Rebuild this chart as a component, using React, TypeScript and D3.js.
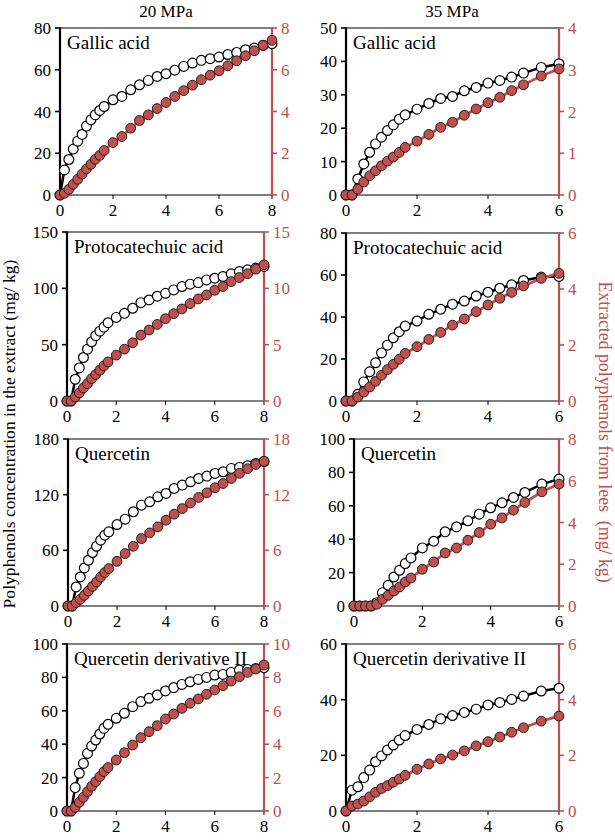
import React from "react";
import * as d3 from "d3";

// ---------- data ----------
const X20 = [0, 0.167, 0.333, 0.5, 0.667, 0.833, 1, 1.167, 1.333, 1.5, 1.667, 2, 2.333, 2.667, 3, 3.333, 3.667, 4, 4.333, 4.667, 5, 5.333, 5.667, 6, 6.333, 6.667, 7, 7.333, 7.667, 8];
const X35 = [0, 0.167, 0.333, 0.5, 0.667, 0.833, 1, 1.167, 1.333, 1.5, 1.667, 2, 2.333, 2.667, 3, 3.333, 3.667, 4, 4.333, 4.667, 5, 5.5, 6];

const columnTitles = ["20 MPa", "35 MPa"];
const compounds = ["Gallic acid", "Protocatechuic acid", "Quercetin", "Quercetin derivative II"];

const gallic20Conc = [0, 12, 17, 22, 25.8, 29, 33, 36, 38.4, 40.5, 42.4, 45.6, 47.2, 50.4, 52.8, 54.9, 56.8, 58.1, 59.8, 61.6, 63.2, 64.5, 65.3, 66.1, 67.3, 68.3, 69.6, 70.4, 71.7, 72.5];
const gallic20Lees = [0, 0.08, 0.27, 0.51, 0.75, 1.0, 1.25, 1.47, 1.71, 1.9, 2.13, 2.51, 2.8, 3.2, 3.57, 3.84, 4.14, 4.43, 4.72, 5.0, 5.26, 5.52, 5.74, 5.95, 6.19, 6.43, 6.67, 6.91, 7.17, 7.41];
const gallic35Conc = [0, 0, 4.8, 9.3, 12.8, 15.3, 17.3, 19.3, 21, 22.7, 24, 25.7, 27.4, 28.9, 29.5, 31.2, 32.2, 33.5, 34.3, 35.3, 36.5, 38.2, 39.3];
const gallic35Lees = [0, 0, 0.14, 0.31, 0.46, 0.58, 0.7, 0.81, 0.91, 1.02, 1.14, 1.29, 1.45, 1.62, 1.74, 1.91, 2.06, 2.21, 2.34, 2.5, 2.64, 2.85, 3.02];

const proto20Conc = [0, 0, 19.3, 29.4, 38.6, 46, 52.6, 58, 62, 65.6, 69.5, 74.2, 77.8, 82.3, 87.3, 89.7, 93, 95.6, 98.6, 101.6, 103.7, 105.1, 107.5, 109, 110.5, 112.9, 115, 116.4, 118, 119.4];
const proto20Lees = [0, 0, 0.36, 0.71, 1.16, 1.54, 1.99, 2.35, 2.73, 3.12, 3.47, 4.07, 4.6, 5.17, 5.85, 6.3, 6.8, 7.3, 7.75, 8.17, 8.64, 9.06, 9.41, 9.83, 10.16, 10.6, 10.96, 11.3, 11.7, 12.09];
const proto35Conc = [0, 0, 3.2, 9.1, 13.9, 18.2, 22.9, 26.6, 30.1, 33, 35.7, 38.1, 41.3, 43.7, 46.1, 47.6, 50, 51.8, 53.7, 55.3, 57.4, 59, 59.3];
const proto35Lees = [0, 0, 0.14, 0.32, 0.5, 0.7, 0.92, 1.12, 1.31, 1.49, 1.7, 1.94, 2.2, 2.45, 2.71, 2.93, 3.19, 3.43, 3.67, 3.88, 4.11, 4.38, 4.56];

const querc20Conc = [0, 0, 20.5, 31.3, 41, 49.3, 57.6, 64.4, 70.9, 76.3, 79.9, 87.8, 93.6, 101.5, 108.7, 112.3, 117.7, 121.3, 126.7, 130.3, 133.9, 137.5, 140, 142.9, 144.7, 148.3, 149.4, 151.2, 153.7, 155.5];
const querc20Lees = [0, 0, 0.36, 0.72, 1.15, 1.62, 2.12, 2.59, 3.13, 3.6, 4.03, 4.82, 5.65, 6.44, 7.27, 7.88, 8.53, 9.25, 9.9, 10.5, 11.1, 11.7, 12.2, 12.74, 13.2, 13.75, 14.3, 14.8, 15.26, 15.6];
const querc35Conc = [0, 0, 0, 0, 2, 8, 12.4, 17.4, 21.4, 25.4, 28.8, 34.8, 38.8, 44.4, 47.4, 51, 55, 58.8, 61.8, 65, 68, 73, 76];
const querc35Lees = [0, 0, 0, 0, 0.08, 0.32, 0.51, 0.72, 0.91, 1.15, 1.34, 1.76, 2.11, 2.54, 2.78, 3.15, 3.52, 3.92, 4.22, 4.59, 4.96, 5.47, 5.84];

const qder20Conc = [0, 0, 14, 22.6, 28.5, 34.5, 38.9, 42.5, 46.1, 49.5, 51.9, 55.5, 58.5, 62.5, 65.5, 67.5, 69.5, 71.9, 73.9, 75.8, 77.4, 78.8, 80, 81.4, 81.8, 83, 84.4, 84.8, 85.4, 85.8];
const qder20Lees = [0, 0, 0.22, 0.52, 0.82, 1.16, 1.48, 1.76, 2.06, 2.36, 2.6, 3.05, 3.49, 3.95, 4.39, 4.75, 5.11, 5.51, 5.81, 6.15, 6.45, 6.71, 6.99, 7.25, 7.5, 7.78, 8.04, 8.3, 8.5, 8.74];
const qder35Conc = [0, 7.5, 8.7, 12, 14.7, 17.7, 19.8, 21.9, 23.7, 25.5, 27.1, 29.3, 31.1, 33.1, 34.3, 35.4, 36.6, 38.1, 39, 40.1, 41.3, 43.1, 44.1];
const qder35Lees = [0, 0.18, 0.25, 0.36, 0.51, 0.67, 0.81, 0.91, 1.03, 1.15, 1.28, 1.5, 1.69, 1.87, 2.01, 2.16, 2.34, 2.49, 2.66, 2.83, 2.99, 3.23, 3.41];

const xTicks20 = [0, 2, 4, 6, 8];
const xTicks35 = [0, 2, 4, 6];

const concTicks20 = [[0, 20, 40, 60, 80], [0, 50, 100, 150], [0, 60, 120, 180], [0, 20, 40, 60, 80, 100]];
const leesTicks20 = [[0, 2, 4, 6, 8], [0, 5, 10, 15], [0, 6, 12, 18], [0, 2, 4, 6, 8, 10]];
const concTicks35 = [[0, 10, 20, 30, 40, 50], [0, 20, 40, 60, 80], [0, 20, 40, 60, 80, 100], [0, 20, 40, 60]];
const leesTicks35 = [[0, 1, 2, 3, 4], [0, 2, 4, 6], [0, 2, 4, 6, 8], [0, 2, 4, 6]];

const conc20 = [gallic20Conc, proto20Conc, querc20Conc, qder20Conc];
const lees20 = [gallic20Lees, proto20Lees, querc20Lees, qder20Lees];
const conc35 = [gallic35Conc, proto35Conc, querc35Conc, qder35Conc];
const lees35 = [gallic35Lees, proto35Lees, querc35Lees, qder35Lees];

const leftLabel = "Polyphenols concentration in the extract (mg/ kg)";
const rightLabel = "Extracted polyphenols from lees  (mg/ kg)";

// ---------- layout ----------
const FRAMES = [
  [{ l: 60, r: 272, t: 28, b: 195 }, { l: 67, r: 264, t: 232, b: 401 }, { l: 68, r: 264, t: 439, b: 606 }, { l: 67, r: 264, t: 644, b: 811 }],
  [{ l: 346, r: 559, t: 28, b: 195 }, { l: 346, r: 559, t: 233, b: 401 }, { l: 354, r: 559, t: 439, b: 606 }, { l: 346, r: 559, t: 644, b: 811 }],
];

const RED = "#c0504d";
const FONT = "'Liberation Serif', 'Times New Roman', serif";

type PanelProps = {
  f: { l: number; r: number; t: number; b: number };
  xs: number[];
  xTicks: number[];
  conc: number[];
  lees: number[];
  cTicks: number[];
  lTicks: number[];
  name: string;
};

function Panel({ f, xs, xTicks, conc, lees, cTicks, lTicks, name }: PanelProps) {
  const x = d3.scaleLinear().domain([0, xTicks[xTicks.length - 1]]).range([f.l, f.r]);
  const y = d3.scaleLinear().domain([0, cTicks[cTicks.length - 1]]).range([f.b, f.t]);
  const y2 = d3.scaleLinear().domain([0, lTicks[lTicks.length - 1]]).range([f.b, f.t]);
  const concPts: [number, number][] = xs.map((v, i) => [x(v), y(conc[i])]);
  const leesPts: [number, number][] = xs.map((v, i) => [x(v), y2(lees[i])]);
  const line = d3.line();
  return (
    <g>
      <line x1={f.l} x2={f.r} y1={f.t} y2={f.t} stroke="#000" strokeWidth={1} />
      <line x1={f.l} x2={f.r} y1={f.b} y2={f.b} stroke="#000" strokeWidth={1.2} />
      {xTicks.map((t) => (
        <g key={"x" + t}>
          <line x1={x(t)} x2={x(t)} y1={f.b} y2={f.b + 4} stroke="#000" strokeWidth={1} />
          <text x={x(t)} y={f.b + 21} textAnchor="middle" fontSize={17} fontFamily={FONT} fill="#000">{t}</text>
        </g>
      ))}
      <line x1={f.l} x2={f.l} y1={f.t - 0.5} y2={f.b + 0.5} stroke="#000" strokeWidth={2.2} />
      {cTicks.map((t) => (
        <g key={"y" + t}>
          <line x1={f.l - 5} x2={f.l} y1={y(t)} y2={y(t)} stroke="#000" strokeWidth={1.6} />
          <text x={f.l - 9} y={y(t) + 6} textAnchor="end" fontSize={17} fontFamily={FONT} fill="#000">{t}</text>
        </g>
      ))}
      <line x1={f.r} x2={f.r} y1={f.t - 0.5} y2={f.b + 0.5} stroke={RED} strokeWidth={2.2} />
      {lTicks.map((t) => (
        <g key={"r" + t}>
          <line x1={f.r} x2={f.r + 5} y1={y2(t)} y2={y2(t)} stroke={RED} strokeWidth={1.6} />
          <text x={f.r + 9} y={y2(t) + 6} textAnchor="start" fontSize={17} fontFamily={FONT} fill={RED}>{t}</text>
        </g>
      ))}
      <path d={line(concPts) || ""} fill="none" stroke="#000" strokeWidth={2.5} />
      {concPts.map((p, i) => (
        <circle key={"c" + i} cx={p[0]} cy={p[1]} r={4.9} fill="#fff" stroke="#000" strokeWidth={1.2} />
      ))}
      <path d={line(leesPts) || ""} fill="none" stroke={RED} strokeWidth={2.8} />
      {leesPts.map((p, i) => (
        <circle key={"l" + i} cx={p[0]} cy={p[1]} r={4.9} fill={RED} stroke="#2a1a1a" strokeWidth={1} />
      ))}
      <text x={f.l + 7} y={f.t + 21} fontSize={19} fontFamily={FONT} fill="#000">{name}</text>
    </g>
  );
}

export default function App() {
  const W = 615, H = 840;
  const panels = [];
  for (let r = 0; r < 4; r++) {
    panels.push(
      <Panel key={"a" + r} f={FRAMES[0][r]} xs={X20} xTicks={xTicks20} conc={conc20[r]} lees={lees20[r]}
        cTicks={concTicks20[r]} lTicks={leesTicks20[r]} name={compounds[r]} />
    );
    panels.push(
      <Panel key={"b" + r} f={FRAMES[1][r]} xs={X35} xTicks={xTicks35} conc={conc35[r]} lees={lees35[r]}
        cTicks={concTicks35[r]} lTicks={leesTicks35[r]} name={compounds[r]} />
    );
  }
  return (
    <svg width={W} height={H} style={{ position: "absolute", left: 0, top: 0, background: "#fff" }}>
      <rect width={W} height={H} fill="#fff" />
      <text x={166} y={17} textAnchor="middle" fontSize={17} fontFamily={FONT}>{columnTitles[0]}</text>
      <text x={452} y={17} textAnchor="middle" fontSize={17} fontFamily={FONT}>{columnTitles[1]}</text>
      {panels}
      <text transform="translate(15,434) rotate(-90)" textAnchor="middle" fontSize={17.6} fontFamily={FONT} fill="#000">{leftLabel}</text>
      <text transform="translate(599,432) rotate(90)" textAnchor="middle" fontSize={17.8} fontFamily={FONT} fill={RED} style={{ whiteSpace: "pre" }}>{rightLabel}</text>
    </svg>
  );
}
